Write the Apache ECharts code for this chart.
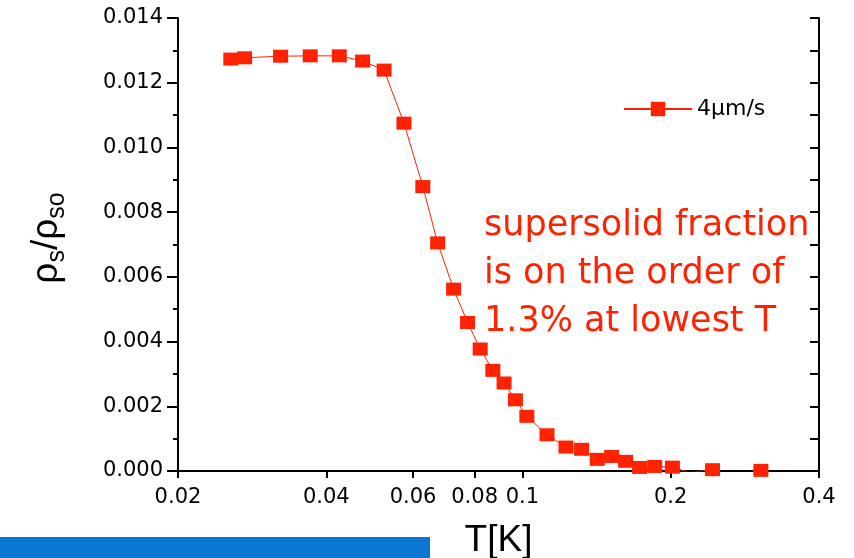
<!DOCTYPE html>
<html>
<head>
<meta charset="utf-8">
<script src="https://cdn.jsdelivr.net/npm/echarts@6/dist/echarts.min.js"></script>
<style>
html,body{margin:0;padding:0;background:#fff}
#main{width:854px;height:558px}
</style>
</head>
<body>
<div id="main"></div>
<script>
// temperature (K) and superfluid fraction rho_s/rho_so
var temps = [0.0256, 0.0273, 0.0323, 0.0371, 0.0425, 0.0474, 0.0524, 0.0575, 0.0628, 0.0673,
  0.0725, 0.0774, 0.0821, 0.0871, 0.0918, 0.0968, 0.1021, 0.1122, 0.1226, 0.1319,
  0.1419, 0.1518, 0.162, 0.173, 0.1856, 0.2016, 0.2186, 0.2432, 0.2624, 0.2842, 0.3048];
var fraction = [0.01273, 0.01277, 0.01282, 0.01283, 0.01283, 0.01267, 0.01239, 0.01075, 0.00879, 0.00705,
  0.00562, 0.00459, 0.00377, 0.00311, 0.00272, 0.0022, 0.00169, 0.00112, 0.00074, 0.00067,
  0.00036, 0.00045, 0.0003, 0.00011, 0.00014, 0.00012, -0.00005, 0.00004, -0.00014, -0.00014, 0.00002];
var xTicks = [0.02, 0.04, 0.06, 0.08, 0.1, 0.2, 0.4];
var seriesName = '4\u03bcm/s';
var noteLines = ['supersolid fraction', 'is on the order of', '1.3% at lowest T'];

var red = '#ff2200';
var chart = echarts.init(document.getElementById('main'));

var points = temps.map(function (t, i) { return [t, fraction[i]]; });

var labelFont = { color: '#000', fontSize: 21, fontFamily: 'DejaVu Sans, sans-serif' };
var black = { color: '#000', width: 2 };

var option = {
  animation: false,
  backgroundColor: '#fff',
  grid: { left: 178, right: 35, top: 18, bottom: 87, containLabel: false, outerBoundsMode: 'none' },
  legend: {
    data: [seriesName],
    left: 618,
    top: 93,
    itemWidth: 68,
    itemHeight: 18,
    itemGap: 5,
    textStyle: { color: '#000', fontSize: 22, fontFamily: 'DejaVu Sans, sans-serif' }
  },
  xAxis: [
    {
      type: 'log',
      min: 0.02,
      max: 0.4,
      position: 'bottom',
      axisLine: { lineStyle: black },
      axisTick: { inside: false, length: 7, lineStyle: black, customValues: xTicks },
      axisLabel: Object.assign({ margin: 16, customValues: xTicks, formatter: function (v) { return String(+(+v).toPrecision(2)); } }, labelFont),
      splitLine: { show: false },
      minorTick: { show: false },
      name: 'T[K]',
      nameLocation: 'middle',
      nameGap: 51,
      nameTextStyle: { color: '#000', fontSize: 37, fontFamily: 'Liberation Sans, Arial, sans-serif' }
    },
    {
      type: 'log',
      min: 0.02,
      max: 0.4,
      position: 'top',
      axisLine: { lineStyle: black },
      axisTick: { inside: true, length: 5, lineStyle: black, customValues: xTicks },
      axisLabel: { show: false },
      splitLine: { show: false }
    }
  ],
  yAxis: [
    {
      type: 'value',
      min: 0,
      max: 0.014,
      interval: 0.002,
      position: 'left',
      axisLine: { show: true, lineStyle: black },
      axisTick: { show: true, length: 11, lineStyle: black },
      minorTick: { show: true, splitNumber: 2, length: 5, lineStyle: black },
      axisLabel: Object.assign({ margin: 15, formatter: function (v) { return v.toFixed(3); } }, labelFont),
      splitLine: { show: false }
    },
    {
      type: 'value',
      min: 0,
      max: 0.014,
      interval: 0.002,
      position: 'right',
      axisLine: { show: true, lineStyle: black },
      axisTick: { show: true, inside: true, length: 9, lineStyle: black },
      minorTick: { show: true, splitNumber: 2, length: 9, lineStyle: black },
      axisLabel: { show: false },
      splitLine: { show: false }
    }
  ],
  series: [
    {
      name: seriesName,
      type: 'line',
      data: points,
      symbol: 'rect',
      symbolSize: [15, 13],
      clip: true,
      itemStyle: { color: red },
      lineStyle: { color: red, width: 1 }
    }
  ],
  graphic: [
    {
      type: 'text',
      x: 47,
      y: 238,
      rotation: Math.PI / 2,
      style: {
        text: '{a|\u03c1}{b|s}{a|/\u03c1}{b|so}',
        align: 'center',
        verticalAlign: 'middle',
        rich: {
          a: { fontSize: 37, fontFamily: 'Liberation Sans, Arial, sans-serif', fill: '#000', lineHeight: 46, verticalAlign: 'middle' },
          b: { fontSize: 25, fontFamily: 'Liberation Sans, Arial, sans-serif', fill: '#000', lineHeight: 46, verticalAlign: 'bottom', padding: [15, 0, 0, 0] }
        }
      }
    },
    {
      type: 'text',
      left: 484,
      top: 202,
      style: {
        text: noteLines.join('\n'),
        fill: red,
        fontSize: 35,
        lineHeight: 48,
        fontFamily: 'DejaVu Sans, sans-serif'
      }
    },
    {
      type: 'rect',
      shape: { x: 0, y: 537, width: 430, height: 21 },
      style: { fill: '#0a78d2' }
    }
  ]
};

chart.setOption(option);
</script>
</body>
</html>
